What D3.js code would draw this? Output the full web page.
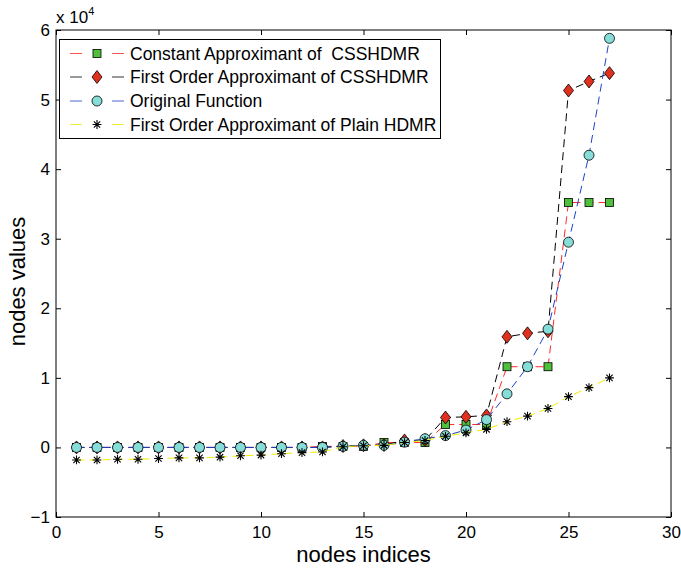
<!DOCTYPE html>
<html>
<head>
<meta charset="utf-8">
<script src="https://cdn.jsdelivr.net/npm/d3@7"></script>
<style>
  html, body { margin: 0; padding: 0; background: #fff; }
  svg { display: block; font-family: "Liberation Sans", Arial, Helvetica, sans-serif; }
</style>
</head>
<body>
<svg id="chart" width="681" height="573"></svg>
<script>
// ---- data ----
const nodeIndices = d3.range(1, 28);
const constantApprox = [0,0,0,0,0,0,0,0,0,0,0,0,150,150,150,700,700,700,3300,3300,3300,11600,11600,11600,35200,35200,35200];
const firstOrderApprox = [0,0,0,0,0,0,0,0,0,0,0,0,0,200,300,350,1000,1050,4300,4400,4600,15900,16400,16700,51300,52600,53800];
const originalFunction = [0,0,0,0,0,0,0,0,0,0,0,0,0,150,300,300,750,1250,1700,2500,4000,7700,11600,17000,29500,42000,58800];
const plainHDMR = [-1800,-1800,-1700,-1700,-1600,-1500,-1500,-1400,-1200,-1100,-900,-750,-650,100,250,300,700,1000,1600,2100,2600,3700,4500,5600,7300,8600,10000];
const xTicks = [0,5,10,15,20,25,30];
const yTicks = [-1,0,1,2,3,4,5,6];
const legendLabels = ["Constant Approximant of  CSSHDMR","First Order Approximant of CSSHDMR","Original Function","First Order Approximant of Plain HDMR"];

const series = [
  {values: constantApprox, line: "#ff2a2a", marker: "square", fill: "#4fc03c"},
  {values: firstOrderApprox, line: "#000000", marker: "diamond", fill: "#e0301e"},
  {values: originalFunction, line: "#2040c8", marker: "circle", fill: "#86dcd6"},
  {values: plainHDMR, line: "#f2ec00", marker: "star", fill: "none"}
];

const svg = d3.select("#chart");
const L = 56, R = 671, T = 30, B = 517;
const x = d3.scaleLinear().domain([0,30]).range([L,R]);
const y = d3.scaleLinear().domain([-1,6]).range([B,T]);

// axes box
svg.append("rect").attr("x",L).attr("y",T).attr("width",R-L).attr("height",B-T)
  .attr("fill","none").attr("stroke","#000").attr("stroke-width",1);

const tl = 5;
const fmt = d => d < 0 ? "\u2212" + Math.abs(d) : String(d);
const gx = svg.append("g").attr("transform",`translate(0,${B})`)
  .call(d3.axisBottom(x).tickValues(xTicks).tickSizeInner(-tl).tickSizeOuter(0).tickPadding(9).tickFormat(fmt));
const gxt = svg.append("g").attr("transform",`translate(0,${T})`)
  .call(d3.axisTop(x).tickValues(xTicks).tickSizeInner(-tl).tickSizeOuter(0).tickFormat(""));
const gy = svg.append("g").attr("transform",`translate(${L},0)`)
  .call(d3.axisLeft(y).tickValues(yTicks).tickSizeInner(-tl).tickSizeOuter(0).tickPadding(6).tickFormat(fmt));
const gyr = svg.append("g").attr("transform",`translate(${R},0)`)
  .call(d3.axisRight(y).tickValues(yTicks).tickSizeInner(-tl).tickSizeOuter(0).tickFormat(""));
[gx,gxt,gy,gyr].forEach(g => {
  g.select(".domain").remove();
  g.selectAll("line").attr("stroke","#000");
  g.selectAll("text").attr("fill","#000").attr("font-size",17).attr("font-family","Liberation Sans, Arial, sans-serif");
});

// exponent label
const ex = svg.append("text").attr("x",56).attr("y",23).attr("font-size",17).attr("fill","#000");
ex.append("tspan").text("x 10");
ex.append("tspan").attr("dy",-8).attr("font-size",11).text("4");

// axis titles
svg.append("text").attr("x",(L+R)/2).attr("y",562).attr("text-anchor","middle")
  .attr("font-size",22).attr("fill","#000").text("nodes indices");
svg.append("text").attr("transform",`translate(25,${(T+B)/2 + 8}) rotate(-90)`).attr("text-anchor","middle")
  .attr("font-size",22).attr("fill","#000").text("nodes values");

function drawMarker(g, type, cx, cy, fill) {
  if (type === "square") {
    g.append("rect").attr("x",cx-4).attr("y",cy-4).attr("width",8).attr("height",8)
      .attr("fill",fill).attr("stroke","#000").attr("stroke-width",0.8);
  } else if (type === "diamond") {
    g.append("path").attr("d",`M${cx},${cy-6.5}L${cx+5},${cy}L${cx},${cy+6.5}L${cx-5},${cy}Z`)
      .attr("fill",fill).attr("stroke","#000").attr("stroke-width",0.8);
  } else if (type === "circle") {
    g.append("circle").attr("cx",cx).attr("cy",cy).attr("r",5)
      .attr("fill",fill).attr("stroke","#000").attr("stroke-width",0.8);
  } else {
    const r = 4.4, d = r*0.72;
    g.append("path").attr("d",`M${cx-r},${cy}H${cx+r}M${cx},${cy-r}V${cy+r}M${cx-d},${cy-d}L${cx+d},${cy+d}M${cx-d},${cy+d}L${cx+d},${cy-d}`)
      .attr("fill","none").attr("stroke","#000").attr("stroke-width",1.1);
  }
}

const line = d3.line().x((d,i) => x(nodeIndices[i])).y(d => y(d/1e4));
series.forEach(s => {
  const g = svg.append("g");
  g.append("path").datum(s.values).attr("d",line).attr("fill","none")
    .attr("stroke",s.line).attr("stroke-width",1).attr("stroke-dasharray","8,5");
  s.values.forEach((v,i) => drawMarker(g, s.marker, x(nodeIndices[i]), y(v/1e4), s.fill));
});

// legend
const lg = svg.append("g");
lg.append("rect").attr("x",59.5).attr("y",39.5).attr("width",381).attr("height",99)
  .attr("fill","#fff").attr("stroke","#000").attr("stroke-width",1);
const ly = [53.5, 77, 101, 124.5];
series.forEach((s,i) => {
  lg.append("line").attr("x1",70).attr("x2",82).attr("y1",ly[i]).attr("y2",ly[i]).attr("stroke",s.line).attr("stroke-width",1).attr("opacity",0.8);
  lg.append("line").attr("x1",112).attr("x2",124).attr("y1",ly[i]).attr("y2",ly[i]).attr("stroke",s.line).attr("stroke-width",1).attr("opacity",0.8);
  drawMarker(lg, s.marker, 97, ly[i], s.fill);
  lg.append("text").attr("x",130).attr("y",ly[i]+6).attr("font-size",17.5).attr("fill","#000")
    .style("white-space","pre").text(legendLabels[i]);
});
</script>
</body>
</html>
